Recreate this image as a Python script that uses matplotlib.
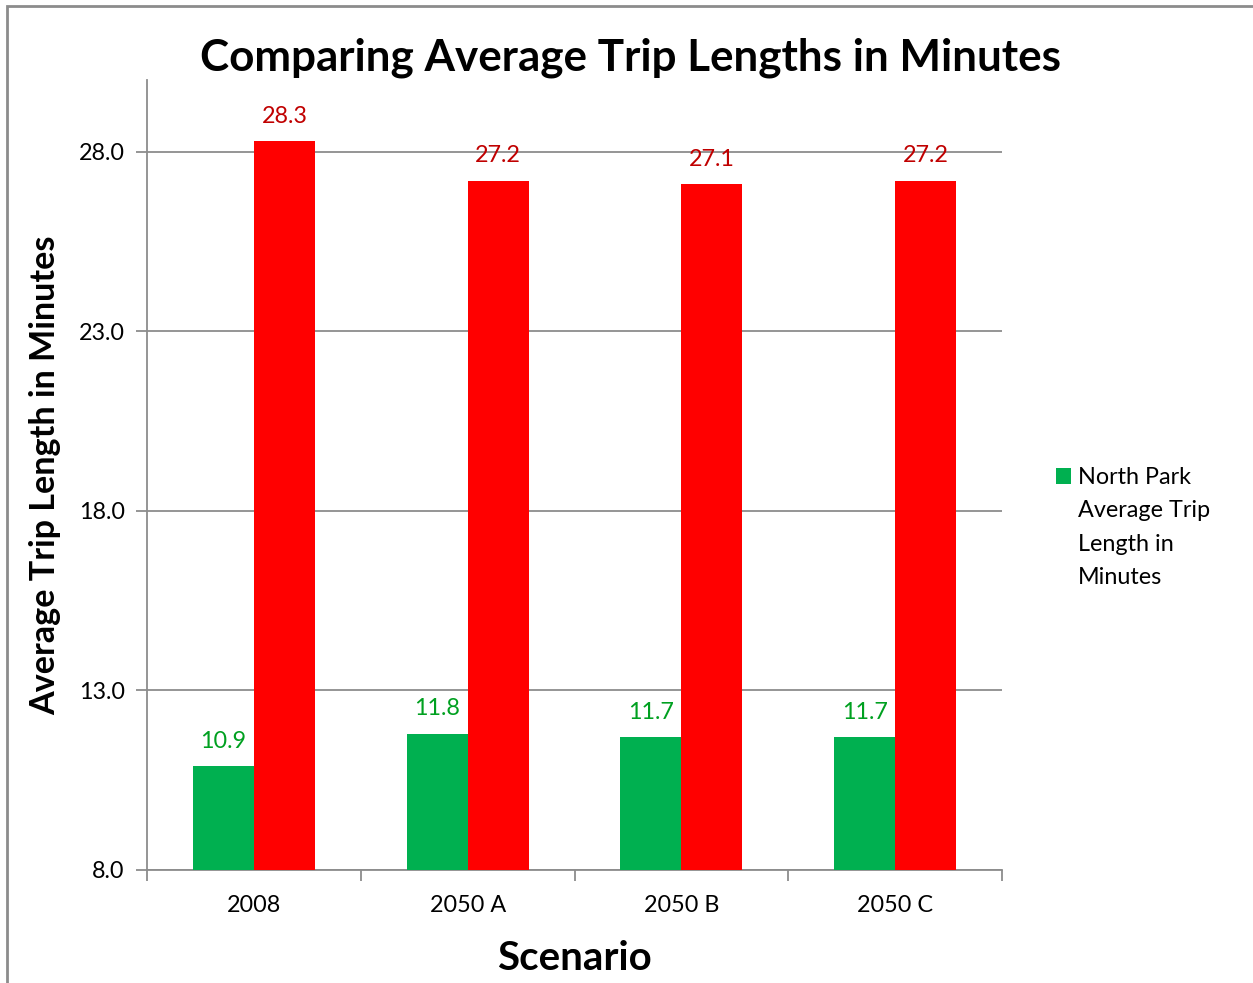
import numpy as np
import matplotlib.pyplot as plt
from matplotlib.patches import Rectangle

# Scenario data
scenarios = ['2008', '2050 A', '2050 B', '2050 C']
north_park = [10.9, 11.8, 11.7, 11.7]
region_avg = [28.3, 27.2, 27.1, 27.2]
y_ticks = [8.0, 13.0, 18.0, 23.0, 28.0]
legend_lines = ['North Park', 'Average Trip', 'Length in', 'Minutes']

green = '#00B050'
red = '#FF0000'
grid_gray = '#8C8C8C'

plt.rcParams['font.family'] = ['Lato', 'DejaVu Sans']

fig = plt.figure(figsize=(12.53, 9.83), dpi=100)
ax = fig.add_axes([147 / 1253, 1 - 870 / 983, (1002 - 147) / 1253, (870 - 80) / 983])

x = np.arange(len(scenarios))
w = 0.285
b1 = ax.bar(x - w / 2, np.array(north_park) - 8, w, bottom=8, color=green, zorder=3)
b2 = ax.bar(x + w / 2, np.array(region_avg) - 8, w, bottom=8, color=red, zorder=3)

for xi, v in zip(x, north_park):
    ax.text(xi - w / 2, v + 0.4, f'{v:.1f}', ha='center', va='bottom',
            color='#00A020', fontsize=16.8)
for xi, v in zip(x, region_avg):
    ax.text(xi + w / 2, v + 0.4, f'{v:.1f}', ha='center', va='bottom',
            color='#C00000', fontsize=16.8)

ax.set_xlim(-0.5, len(scenarios) - 0.5)
ax.set_ylim(8, 30)
ax.set_yticks(y_ticks)
ax.set_yticklabels([f'{t:.1f}' for t in y_ticks], fontsize=16.8)
ax.yaxis.grid(True, color=grid_gray, linewidth=1.3, zorder=0)
ax.set_axisbelow(True)

# category boundary ticks on the x axis
ax.set_xticks(np.arange(-0.5, len(scenarios), 1.0))
ax.set_xticklabels([])
ax.set_xticks(x, minor=True)
ax.set_xticklabels(scenarios, minor=True, fontsize=16.8)
ax.tick_params(axis='x', which='minor', length=0, pad=18)
ax.tick_params(axis='x', which='major', length=8, width=1.3, color=grid_gray)
ax.tick_params(axis='y', length=8, width=1.3, color=grid_gray, pad=8)

for s in ['top', 'right']:
    ax.spines[s].set_visible(False)
for s in ['left', 'bottom']:
    ax.spines[s].set_color(grid_gray)
    ax.spines[s].set_linewidth(1.3)

ax.set_ylabel('Average Trip Length in Minutes', fontsize=24.6, fontweight='bold', labelpad=13)
ax.set_xlabel('Scenario', fontsize=29, fontweight='bold', labelpad=17)
fig.text(631 / 1253, 1 - 58 / 983, 'Comparing Average Trip Lengths in Minutes',
         ha='center', va='center', fontsize=31.7, fontweight='bold')

# legend: one swatch, label wrapped over four lines
blank = [Rectangle((0, 0), 1, 1, visible=False) for _ in legend_lines[1:]]
leg = fig.legend(handles=[b1] + blank, labels=legend_lines, loc='upper left',
                 bbox_to_anchor=(1035 / 1253, 1 - 446 / 983),
                 frameon=False, fontsize=16.8, handlelength=0.65, handleheight=0.65,
                 handletextpad=0.3, labelspacing=0.53)

# chart border
fig.patches.append(Rectangle((7 / 1253, -0.1), 1.2, 1 - 6 / 983 + 0.1, transform=fig.transFigure,
                             fill=False, edgecolor='#8C8C8C', linewidth=2))

fig.savefig('out.png', dpi=100)
